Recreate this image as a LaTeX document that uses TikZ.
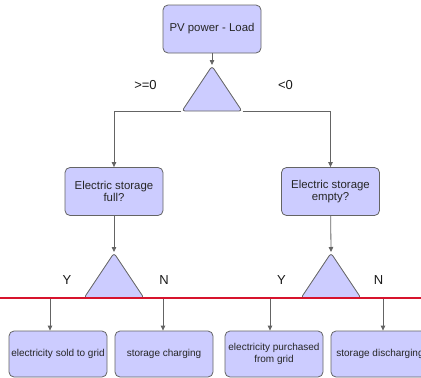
\documentclass[tikz,border=0pt]{standalone}
\usepackage{fontspec}
\setmainfont{Liberation Sans}
\usetikzlibrary{arrows.meta}
\usetikzlibrary{shapes.geometric}
\definecolor{boxfill}{RGB}{204,204,255}
\definecolor{boxline}{RGB}{100,100,100}
\definecolor{cutline}{RGB}{215,20,45}

\begin{document}
\begin{tikzpicture}[x=1pt,y=-1pt]

		\tikzset{line/.style={draw=boxline,line width=0.8pt}}
		\tikzset{arrow/.style={line,-{Triangle[length=5pt,width=4.5pt]}}}
		\tikzset{block/.style={line,fill=boxfill,rounded corners=5pt,minimum width=98pt,minimum height=48pt,inner sep=1pt,align=center,text=black!85}}
		\tikzset{decide/.style={line,fill=boxfill,isosceles triangle,isosceles triangle stretches,shape border rotate=90,rounded corners=3pt,minimum width=60pt,minimum height=45pt,inner sep=0pt}}
		\tikzset{answer/.style={inner sep=0pt,font=\fontsize{13}{13}\selectfont,text=black!90}}
		\tikzset{big/.style={font=\fontsize{11.4}{12}\selectfont}}
		\tikzset{small/.style={font=\fontsize{10}{12}\selectfont,minimum height=46pt}}

		\useasboundingbox (0,0) rectangle (421,378);
		\clip (0,0) rectangle (421,378);

		% Top of the tree.
		\node[block,big] (pv) at (212,29) {PV power - Load};
		\node[decide,anchor=apex] (t1) at (212,65) {};
		\node[answer] (ge) at (145.5,85) {>=0};
		\node[answer] (lt) at (285.5,85) {<0};

		\node[block,big] (full) at (114,191.5) {Electric storage\\full?};
		\node[block,big] (empty) at (330.5,191.5) {Electric storage\\empty?};

		\path[arrow] (pv) to (t1.apex);
		\path[arrow] (t1.left corner) -| (full.north);
		\path[arrow] (t1.right corner) -| (empty.north);

		% Second level.
		\node[decide,anchor=apex] (t2) at (114,252) {};
		\node[decide,anchor=apex] (t3) at (331,252) {};
		\node[answer] (y1) at (67,280) {Y};
		\node[answer] (n1) at (164,280) {N};
		\node[answer] (y2) at (281.5,280) {Y};
		\node[answer] (n2) at (378.5,280) {N};

		\path[arrow] (full) to (t2.apex);
		\path[arrow] (empty) to (t3.apex);

		% Leaves.
		\node[block,small] (sold) at (58,354) {electricity sold to grid};
		\node[block,small] (charge) at (164,354) {storage charging};
		\node[block,small] (buy) at (274,354) {electricity purchased\\from grid};
		\node[block,small] (discharge) at (380,354) {storage discharging};

		\path[arrow] (t2.left corner) -| ([xshift=-8pt]sold.north);
		\path[arrow] (t2.right corner) -| ([xshift=-1pt]charge.north);
		\path[arrow] (t3.left corner) -| ([xshift=-4pt]buy.north);
		\path[arrow] (t3.right corner) -| ([xshift=3pt]discharge.north);

		\fill[cutline] (0,296.5) rectangle (421,298.5);

	\end{tikzpicture}
\end{document}
